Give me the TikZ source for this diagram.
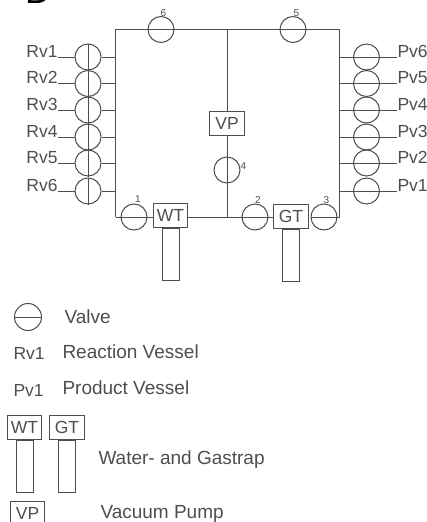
\documentclass[tikz,border=0pt]{standalone}
\usepackage{fontspec}
\setmainfont{Liberation Sans}
\definecolor{inkgrey}{RGB}{78,78,78}
\tikzset{
  valve/.style={circle,draw,minimum size=26pt,inner sep=0pt,line width=1pt},
  trapbox/.style={rectangle,draw,minimum width=34.5pt,minimum height=24pt,inner sep=0pt,line width=1pt,font=\fontsize{17.5}{18}\selectfont},
  tube/.style={rectangle,draw,minimum width=17pt,minimum height=52pt,inner sep=0pt,line width=1pt},
  vessel/.style={inner sep=0pt,font=\fontsize{17.5}{18}\selectfont},
  legend/.style={inner sep=0pt,anchor=base west,font=\fontsize{19}{20}\selectfont},
  num/.style={inner sep=0pt,font=\fontsize{10}{10}\selectfont}
}
\begin{document}
\begin{tikzpicture}[x=1pt,y=-1pt,line width=1pt,draw=inkgrey,text=inkgrey]
  \useasboundingbox (0,0) rectangle (427,522);
  \node[inner sep=0pt,anchor=base,text=black,font=\fontsize{36}{36}\selectfont] (panel) at (38,4) {D};
  % frame corners
  \coordinate (tl) at (115.5,29.5); \coordinate (tm) at (227,29.5); \coordinate (tr) at (339,29.5);
  \coordinate (bl) at (115.5,217); \coordinate (bm) at (227,217); \coordinate (br) at (339,217);
  % valves in the frame
  \node[valve] (v6) at (161,29.5) {};
  \node[valve] (v5) at (293,29.5) {};
  \node[valve] (v4) at (227,170) {};
  \node[valve] (v1) at (134,217) {};
  \node[valve] (v2) at (255,217) {};
  \node[valve] (v3) at (324,217) {};
  \node[trapbox] (vp) at (227,123) {VP};
  \node[trapbox] (wt) at (170.5,215) {WT};
  \node[trapbox] (gt) at (291,216) {GT};
  \node[tube,anchor=north] (wttube) at (wt.south) {};
  \node[tube,anchor=north] (gttube) at (gt.south) {};
  \coordinate (wtl) at (wt.west |- bm); \coordinate (wtr) at (wt.east |- bm);
  \coordinate (gtl) at (gt.west |- bm); \coordinate (gtr) at (gt.east |- bm);
  \node[num] (n6) at (163.5,13) {6};
  \node[num] (n5) at (296.5,13.5) {5};
  \node[num] (n4) at (243.5,166) {4};
  \node[num] (n1) at (138,199.5) {1};
  \node[num] (n2) at (258,200) {2};
  \node[num] (n3) at (326.5,200) {3};
  \draw (bl) -- (tl) -- (tr) -- (br) -- (v3.east);
  \draw (v3.east) -- (v3.west);
  \draw (bl) -- (wtl);
  \draw (wtr) -- (gtl);
  \draw (tm) -- (vp.north);
  \draw (vp.south) -- (v4.north);
  \draw (v4.north) -- (v4.south);
  \draw (v4.south) -- (bm);
  % vessels
  \foreach \i/\ry/\rn/\pn in {1/57/1/6,2/83.5/2/5,3/110/3/4,4/137/4/3,5/163/5/2,6/191/6/1}{
    \node[valve] (rv\i) at (88,\ry) {};
    \node[vessel,anchor=base east] (rvlab\i) at (58,\ry) {Rv\rn};
    \coordinate (rvjoin\i) at (115.5,\ry);
    \draw (rvlab\i.base east) -- (rv\i.west);
    \draw (rv\i.east) -- (rvjoin\i);
    \draw (rv\i.north) -- (rv\i.south);
    \node[valve] (pv\i) at (366.5,\ry) {};
    \node[vessel,anchor=base west] (pvlab\i) at (397,\ry) {Pv\pn};
    \coordinate (pvjoin\i) at (339,\ry);
    \draw (pvjoin\i) -- (pvlab\i.base west);
  }
  % legend
  \node[valve,minimum size=27pt] (keyvalve) at (28,317) {};
  \draw (keyvalve.west) -- (keyvalve.east);
  \node[legend] (keyvalvetxt) at (64,323) {Valve};
  \node[legend,font=\fontsize{17.5}{18}\selectfont] (keyrv) at (13,359) {Rv1};
  \node[legend] (keyrvtxt) at (62,358) {Reaction Vessel};
  \node[legend,font=\fontsize{17.5}{18}\selectfont] (keypv) at (13,396) {Pv1};
  \node[legend] (keypvtxt) at (62,394) {Product Vessel};
  \node[trapbox] (keywt) at (24.5,427) {WT};
  \node[trapbox] (keygt) at (67,427) {GT};
  \node[tube,anchor=north] (keywttube) at (keywt.south) {};
  \node[tube,anchor=north] (keygttube) at (keygt.south) {};
  \node[legend] (keytraptxt) at (98,464) {Water- and Gastrap};
  \node[trapbox] (keyvp) at (27.5,513) {VP};
  \node[legend] (keyvptxt) at (100,518) {Vacuum Pump};
\end{tikzpicture}
\end{document}
